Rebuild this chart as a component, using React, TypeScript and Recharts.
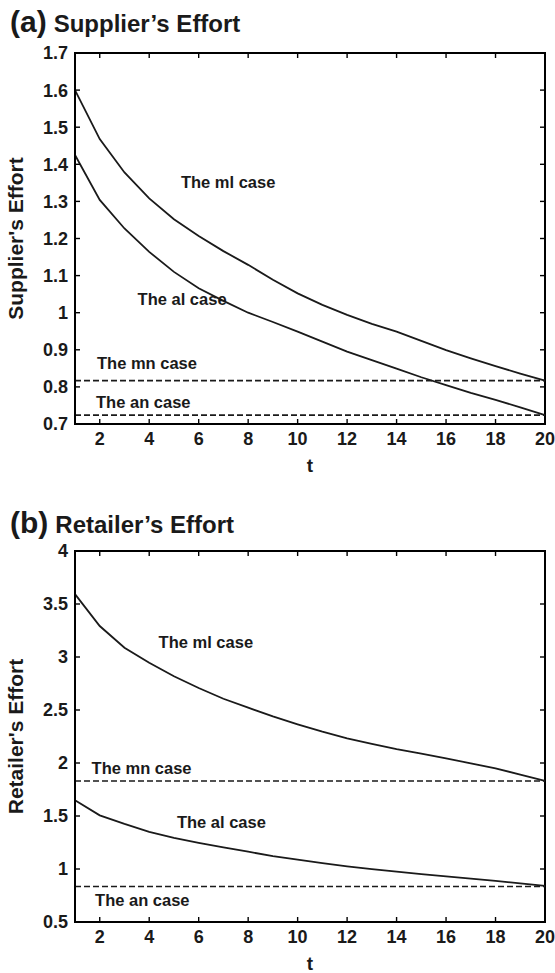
import React from "react";
import { Line, LineChart, ReferenceArea, ReferenceDot, ReferenceLine, XAxis, YAxis } from "recharts";

// Periods on the horizontal axis
const periods = [1, 2, 3, 4, 5, 6, 7, 8, 9, 10, 11, 12, 13, 14, 15, 16, 17, 18, 19, 20];
const periodTicks = [2, 4, 6, 8, 10, 12, 14, 16, 18, 20];

// (a) supplier's effort
const supplierMl = [1.6, 1.468, 1.378, 1.308, 1.252, 1.207, 1.166, 1.129, 1.089, 1.052, 1.021, 0.994, 0.97, 0.949, 0.924, 0.899, 0.877, 0.856, 0.836, 0.817];
const supplierAl = [1.425, 1.304, 1.227, 1.164, 1.11, 1.066, 1.032, 1.0, 0.975, 0.949, 0.922, 0.895, 0.872, 0.849, 0.826, 0.805, 0.784, 0.765, 0.745, 0.724];
const supplierMn = 0.817;
const supplierAn = 0.724;
const supplierTicks = [0.7, 0.8, 0.9, 1, 1.1, 1.2, 1.3, 1.4, 1.5, 1.6, 1.7];

// (b) retailer's effort
const retailerMl = [3.593, 3.292, 3.087, 2.945, 2.818, 2.708, 2.606, 2.522, 2.44, 2.365, 2.295, 2.233, 2.18, 2.13, 2.088, 2.043, 1.997, 1.95, 1.89, 1.831];
const retailerAl = [1.648, 1.506, 1.425, 1.35, 1.294, 1.246, 1.203, 1.163, 1.122, 1.088, 1.055, 1.025, 0.998, 0.975, 0.952, 0.931, 0.91, 0.888, 0.865, 0.84];
const retailerMn = 1.83;
const retailerAn = 0.835;
const retailerTicks = [0.5, 1, 1.5, 2, 2.5, 3, 3.5, 4];

type CaseNote = { text: string; t: number; v: number };

// case annotations, anchored at the left edge of each note
const supplierNotes: CaseNote[] = [
  { text: "The ml case", t: 5.24, v: 1.351 },
  { text: "The al case", t: 3.49, v: 1.036 },
  { text: "The mn case", t: 1.85, v: 0.864 },
  { text: "The an case", t: 1.81, v: 0.758 },
];
const retailerNotes: CaseNote[] = [
  { text: "The ml case", t: 4.34, v: 3.143 },
  { text: "The mn case", t: 1.63, v: 1.948 },
  { text: "The al case", t: 5.08, v: 1.439 },
  { text: "The an case", t: 1.77, v: 0.709 },
];

const FONT = "'Liberation Sans', Arial, Helvetica, sans-serif";
const INK = "#1a1a1a";
const FRAME = "#000000";

// plot box inside each 555x480 panel (boxed axes, ticks pointing inwards)
const BOX = { left: 75, right: 545, top: 53, bottom: 424 };
const TICK_LEN = 5;

function XTick(props: any) {
  const { x, payload } = props;
  return (
    <g>
      <line x1={x} x2={x} y1={BOX.bottom} y2={BOX.bottom - TICK_LEN} stroke={FRAME} strokeWidth={1.4} />
      <line x1={x} x2={x} y1={BOX.top} y2={BOX.top + TICK_LEN} stroke={FRAME} strokeWidth={1.4} />
      <text x={x} y={BOX.bottom + 21} textAnchor="middle" fontSize={18} fontWeight={700} fill={INK} fontFamily={FONT}>
        {payload.value}
      </text>
    </g>
  );
}

function YTick(props: any) {
  const { y, payload } = props;
  return (
    <g>
      <line x1={BOX.left} x2={BOX.left + TICK_LEN} y1={y} y2={y} stroke={FRAME} strokeWidth={1.4} />
      <line x1={BOX.right} x2={BOX.right - TICK_LEN} y1={y} y2={y} stroke={FRAME} strokeWidth={1.4} />
      <text x={BOX.left - 7} y={y + 6.4} textAnchor="end" fontSize={18} fontWeight={700} fill={INK} fontFamily={FONT}>
        {String(payload.value)}
      </text>
    </g>
  );
}

type PanelProps = {
  ml: number[];
  al: number[];
  mn: number;
  an: number;
  yTicks: number[];
  yTitle: string;
  notes: CaseNote[];
};

function EffortPanel({ ml, al, mn, an, yTicks, yTitle, notes }: PanelProps) {
  const rows = periods.map((t, i) => ({ t, ml: ml[i], al: al[i] }));
  const yMin = yTicks[0];
  const yMax = yTicks[yTicks.length - 1];

  return (
    <LineChart
      width={555}
      height={480}
      data={rows}
      margin={{ top: BOX.top, right: 555 - BOX.right, bottom: 0, left: 0 }}
    >
      <XAxis
        dataKey="t"
        type="number"
        domain={[1, 20]}
        ticks={periodTicks}
        interval={0}
        height={480 - BOX.bottom}
        axisLine={{ stroke: FRAME, strokeWidth: 2 }}
        tickLine={false}
        tick={<XTick />}
        label={{ value: "t", position: "insideBottom", offset: 8, fontSize: 19, fontWeight: 700, fill: INK, fontFamily: FONT }}
      />
      <YAxis
        type="number"
        domain={[yMin, yMax]}
        ticks={yTicks}
        interval={0}
        width={BOX.left}
        axisLine={{ stroke: FRAME, strokeWidth: 2 }}
        tickLine={false}
        tick={<YTick />}
        label={{
          value: yTitle,
          angle: -90,
          position: "insideLeft",
          offset: 16,
          style: { textAnchor: "middle" },
          fontSize: 21,
          fontWeight: 700,
          fill: INK,
          fontFamily: FONT,
        }}
      />

      <ReferenceArea x1={1} x2={20} y1={yMin} y2={yMax} fill="none" stroke={FRAME} strokeWidth={2} />

      <ReferenceLine y={mn} stroke={INK} strokeWidth={1.6} strokeDasharray="6 3" />
      <ReferenceLine y={an} stroke={INK} strokeWidth={1.6} strokeDasharray="6 3" />

      <Line type="linear" dataKey="ml" stroke={INK} strokeWidth={1.8} dot={false} isAnimationActive={false} />
      <Line type="linear" dataKey="al" stroke={INK} strokeWidth={1.8} dot={false} isAnimationActive={false} />

      {notes.map((n) => (
        <ReferenceDot
          key={n.text}
          x={n.t}
          y={n.v}
          r={1}
          fill="none"
          stroke="none"
          label={{ value: n.text, position: "right", offset: 0, fontSize: 16.5, fontWeight: 700, fill: INK, fontFamily: FONT }}
        />
      ))}
    </LineChart>
  );
}

function PanelTitle({ tag, text, baseline }: { tag: string; text: string; baseline: number }) {
  return (
    <svg width={555} height={50} style={{ position: "absolute", left: 0, top: baseline - 36 }}>
      <text x={10} y={36} fontFamily={FONT} fontWeight={700} fill={INK}>
        <tspan fontSize={30}>{tag}</tspan>
        <tspan fontSize={24} dx={7}>{text}</tspan>
      </text>
    </svg>
  );
}

export default function App() {
  return (
    <div style={{ position: "relative", width: 555, height: 973, background: "#fff", fontFamily: FONT }}>
      <style>{"body{margin:0}"}</style>
      <div style={{ position: "absolute", left: 0, top: 0 }}>
        <EffortPanel ml={supplierMl} al={supplierAl} mn={supplierMn} an={supplierAn} yTicks={supplierTicks} yTitle="Supplier's Effort" notes={supplierNotes} />
      </div>
      <div style={{ position: "absolute", left: 0, top: 498 }}>
        <EffortPanel ml={retailerMl} al={retailerAl} mn={retailerMn} an={retailerAn} yTicks={retailerTicks} yTitle="Retailer's Effort" notes={retailerNotes} />
      </div>
      <PanelTitle tag="(a)" text="Supplier’s Effort" baseline={32} />
      <PanelTitle tag="(b)" text="Retailer’s Effort" baseline={533} />
    </div>
  );
}
